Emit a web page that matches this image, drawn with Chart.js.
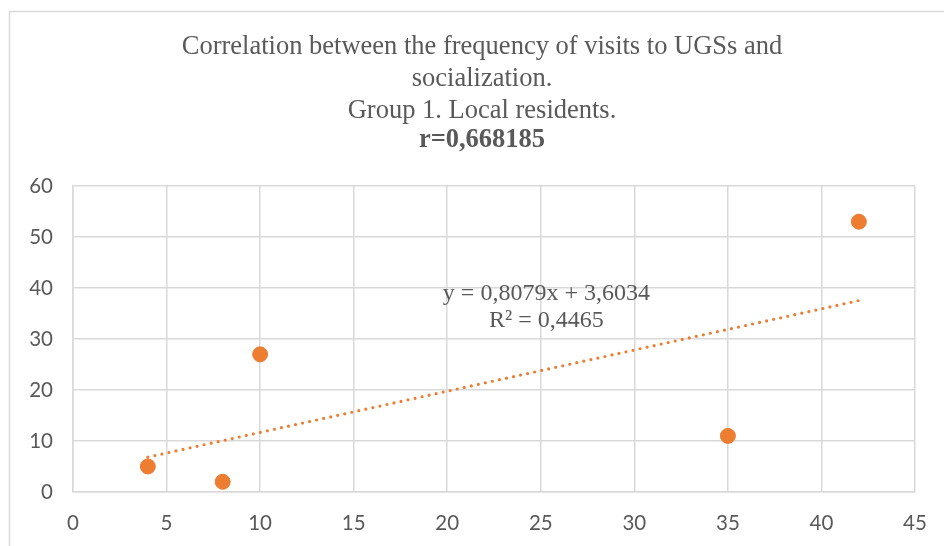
<!DOCTYPE html>
<html>
<head>
<meta charset="utf-8">
<script src="https://cdn.jsdelivr.net/npm/chart.js@4/dist/chart.umd.min.js"></script>
<style>
  html, body { margin: 0; padding: 0; background: #fff; }
  #wrap { position: relative; width: 944px; height: 546px; }
</style>
</head>
<body>
<div id="wrap"><canvas id="c" width="944" height="546"></canvas></div>
<script>
// Visit frequency (x) vs. socialization score (y)
const visits = [4, 8, 10, 35, 42];
const socialization = [5, 2, 27, 11, 53];

// Linear trend reported for the series
const slope = 0.8079;
const intercept = 3.6034;
const rSquared = 0.4465;
const trendRange = [4, 42];

const titleLines = [
  'Correlation between the frequency of visits to UGSs and',
  'socialization.',
  'Group 1. Local residents.'
];
const titleBold = 'r=0,668185';

const xTicks = [0, 5, 10, 15, 20, 25, 30, 35, 40, 45];
const yTicks = [0, 10, 20, 30, 40, 50, 60];

const fmt = v => String(v).replace('.', ',');
const points = visits.map((x, i) => ({ x, y: socialization[i] }));
const trend = trendRange.map(x => ({ x, y: slope * x + intercept }));

const ORANGE = '#ED7D31';
const GRAY_TEXT = '#595959';
const GRID = '#D9D9D9';
const SERIF = '"Liberation Serif", "Times New Roman", serif';
const SANS = 'Lato, "Open Sans", sans-serif';

const decor = {
  id: 'decor',
  beforeDraw(chart) {
    const ctx = chart.ctx;
    ctx.save();
    ctx.strokeStyle = GRID;
    ctx.lineWidth = 1.5;
    ctx.strokeRect(9.5, 11.5, 960, 560);
    ctx.restore();
  },
  afterDraw(chart) {
    const ctx = chart.ctx;
    ctx.save();
    ctx.fillStyle = GRAY_TEXT;
    ctx.textAlign = 'center';
    ctx.textBaseline = 'middle';
    ctx.font = '26.5px ' + SERIF;
    const cx = 482;
    const ys = [47, 79, 111];
    titleLines.forEach((t, i) => ctx.fillText(t, cx, ys[i]));
    ctx.font = 'bold 26.5px ' + SERIF;
    ctx.fillText(titleBold, cx, 140);

    // trend equation label
    const xs = chart.scales.x, yS = chart.scales.y;
    const lx = xs.getPixelForValue(25.3);
    const ly = yS.getPixelForValue(38.9);
    ctx.font = '24px ' + SERIF;
    ctx.fillText('y = ' + fmt(slope) + 'x + ' + fmt(intercept), lx, ly);
    ctx.fillText('R² = ' + fmt(rSquared), lx, ly + 27);
    ctx.restore();
  }
};

new Chart(document.getElementById('c'), {
  type: 'scatter',
  data: {
    datasets: [
      {
        type: 'line',
        data: trend,
        borderColor: ORANGE,
        borderWidth: 3.2,
        borderDash: [0, 7.2],
        borderCapStyle: 'round',
        pointRadius: 0,
        fill: false,
        order: 2
      },
      {
        data: points,
        backgroundColor: ORANGE,
        borderColor: ORANGE,
        pointRadius: 7.5,
        pointHoverRadius: 7.5,
        order: 1
      }
    ]
  },
  plugins: [decor],
  options: {
    responsive: false,
    animation: false,
    events: [],
    layout: { padding: { left: 0, top: 186, right: 29, bottom: 0 } },
    plugins: {
      legend: { display: false },
      tooltip: { enabled: false },
      title: { display: false }
    },
    scales: {
      x: {
        type: 'linear',
        min: 0, max: 45,
        afterBuildTicks(s) { s.ticks = xTicks.map(v => ({ value: v })); },
        afterFit(s) { s.height = 54; s.paddingLeft = 0; s.paddingRight = 0; },
        grid: { color: GRID, lineWidth: 1.5, drawTicks: false },
        border: { color: GRID, width: 1.5 },
        ticks: { color: GRAY_TEXT, font: { family: SANS, size: 20.5 }, padding: 19 }
      },
      y: {
        type: 'linear',
        min: 0, max: 60,
        afterBuildTicks(s) { s.ticks = yTicks.map(v => ({ value: v })); },
        afterFit(s) { s.width = 73; s.paddingTop = 0; s.paddingBottom = 0; },
        grid: { color: GRID, lineWidth: 1.5, drawTicks: false },
        border: { color: GRID, width: 1.5 },
        ticks: { color: GRAY_TEXT, font: { family: SANS, size: 20.5 }, padding: 20 }
      }
    }
  }
});
</script>
</body>
</html>
